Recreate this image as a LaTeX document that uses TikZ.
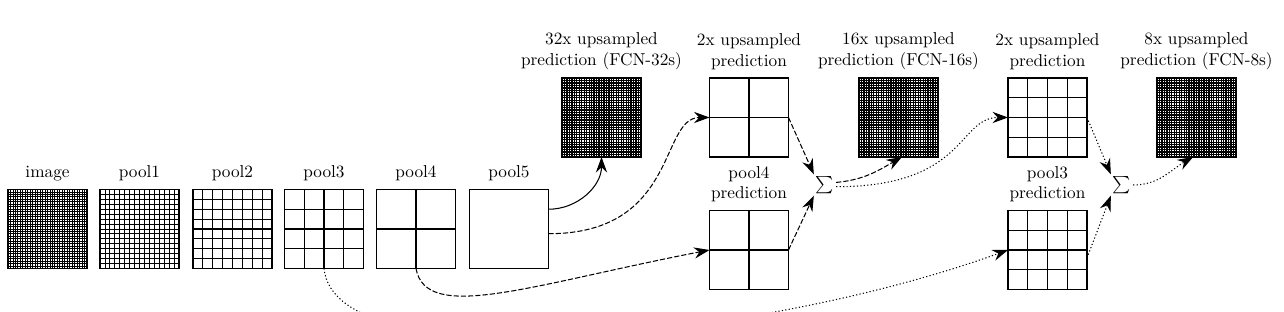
\documentclass[tikz,border=0pt]{standalone}
\usetikzlibrary{arrows.meta,calc,positioning}
\newcommand\mkgrid[3]{%
  \pgfmathtruncatemacro\mkgridm{#2-1}%
  \foreach \k in {1,...,\mkgridm}{%
    \draw[line width=#3] ($(#1.south west)!\k/#2!(#1.south east)$) -- ($(#1.north west)!\k/#2!(#1.north east)$);
    \draw[line width=#3] ($(#1.south west)!\k/#2!(#1.north west)$) -- ($(#1.south east)!\k/#2!(#1.north east)$);
  }}
\tikzset{
  sqbox/.style={draw, line width=0.8pt, minimum size=45.8pt, inner sep=0pt, outer sep=0pt},
  lab/.style={align=center, inner sep=0pt, font=\normalsize},
  sumnode/.style={inner sep=1pt},
  arr/.style={line width=0.6pt, -{Stealth[length=9pt,width=6.5pt,inset=3pt]}},
  fcnthirtytwo/.style={arr},
  fcnsixteen/.style={arr, dash pattern=on 3pt off 1.2pt},
  fcneight/.style={arr, dash pattern=on 0.7pt off 1.3pt}
}
\begin{document}
\begin{tikzpicture}[x=0.58pt,y=0.58pt]
\useasboundingbox[fill=white] (0,0) rectangle (1284,312);
\clip (0,0) rectangle (1284,312);

% squares
\node[sqbox] (image) at (47.5,83) {};
\node[sqbox] (pool1) at (139.5,83) {};
\node[sqbox] (pool2) at (232.5,83) {};
\node[sqbox] (pool3) at (324,83) {};
\node[sqbox] (pool4) at (416,83) {};
\node[sqbox] (pool5) at (509,83) {};
\node[sqbox] (up32) at (601.5,194.5) {};
\node[sqbox] (up2a) at (749,194.5) {};
\node[sqbox] (p4pred) at (749,62) {};
\node[sqbox] (up16) at (898.5,194.5) {};
\node[sqbox] (up2b) at (1047.5,194.5) {};
\node[sqbox] (p3pred) at (1047.5,62) {};
\node[sqbox] (up8) at (1196.5,194.5) {};

\node[sumnode] (sum1) at (825,127) {$\sum$};
\node[sumnode] (sum2) at (1122,127) {$\sum$};

% grids
\mkgrid{image}{32}{0.5pt}
\mkgrid{pool1}{16}{0.5pt}
\mkgrid{pool2}{8}{0.6pt}
\mkgrid{pool3}{4}{0.7pt}
\mkgrid{pool4}{2}{0.7pt}
\mkgrid{up32}{32}{0.75pt}
\mkgrid{up16}{32}{0.75pt}
\mkgrid{up8}{32}{0.75pt}
\mkgrid{up2a}{2}{0.7pt}
\mkgrid{p4pred}{2}{0.7pt}
\mkgrid{up2b}{4}{0.7pt}
\mkgrid{p3pred}{4}{0.7pt}

% labels
\node[lab, above=4.6pt of image] (limage) {image};
\node[lab, above=4.6pt of pool1] (lpool1) {pool1};
\node[lab, above=4.6pt of pool2] (lpool2) {pool2};
\node[lab, above=4.6pt of pool3] (lpool3) {pool3};
\node[lab, above=4.6pt of pool4] (lpool4) {pool4};
\node[lab, above=4.6pt of pool5] (lpool5) {pool5};
\node[lab, above=4.6pt of up32] (lup32) {32x upsampled\\prediction (FCN-32s)};
\node[lab, above=4.6pt of up2a] (lup2a) {2x upsampled\\prediction};
\node[lab, above=4.6pt of p4pred] (lp4pred) {pool4\\prediction};
\node[lab, above=4.6pt of up16] (lup16) {16x upsampled\\prediction (FCN-16s)};
\node[lab, above=4.6pt of up2b] (lup2b) {2x upsampled\\prediction};
\node[lab, above=4.6pt of p3pred] (lp3pred) {pool3\\prediction};
\node[lab, above=4.6pt of up8] (lup8) {8x upsampled\\prediction (FCN-8s)};

% connectors
\draw[fcnthirtytwo] ($(pool5.north east)!0.25!(pool5.south east)$) to[out=0,in=-90] (up32.south);
\draw[fcnsixteen] ($(pool5.north east)!0.56!(pool5.south east)$) .. controls +(130,0) and +(-50,0) .. (up2a.west);
\draw[fcnsixteen] (pool4.south) .. controls +(10,-55) and +(-180,-35) .. (p4pred.west);
\draw[fcnsixteen] (up2a.east) -- (sum1.north west);
\draw[fcnsixteen] (p4pred.east) -- (sum1.south west);
\draw[fcnsixteen] ([yshift=1.5pt]sum1.east) to[out=5,in=-150] ([xshift=2pt]up16.south);
\draw[fcneight] ([yshift=-1pt]sum1.east) .. controls +(130,0) and +(-50,0) .. (up2b.west);
\draw[fcneight] (pool3.south) .. controls +(11,-114) and +(-248,-90) .. (p3pred.west);
\draw[fcneight] (up2b.east) -- (sum2.north west);
\draw[fcneight] ($(p3pred.north east)!0.6!(p3pred.south east)$) -- (sum2.south west);
\draw[fcneight] (sum2.east) to[out=0,in=-150] ([xshift=-2pt]up8.south);
\end{tikzpicture}
\end{document}
